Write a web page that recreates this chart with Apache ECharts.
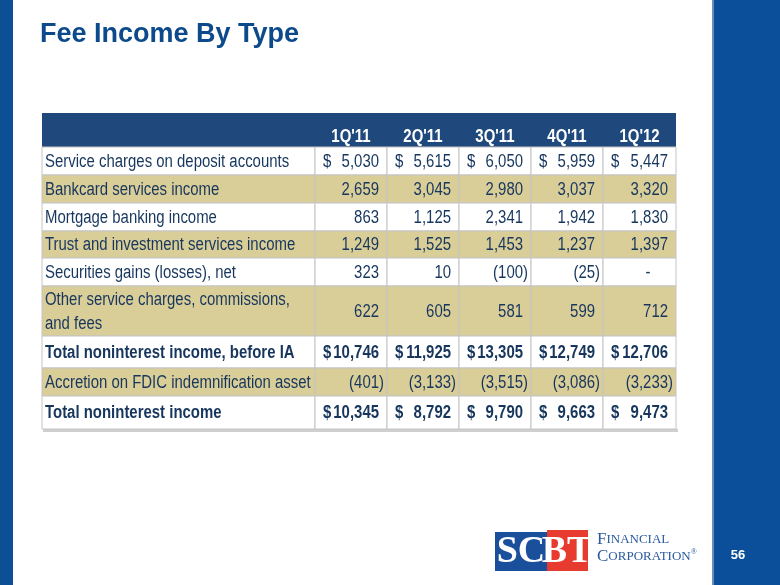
<!DOCTYPE html>
<html><head><meta charset="utf-8">
<script src="https://cdn.jsdelivr.net/npm/echarts@6/dist/echarts.min.js"></script>
<style>html,body{margin:0;padding:0;background:#fff}#c{width:780px;height:585px}</style>
</head><body><div id="c"></div>
<script>
const title = "Fee Income By Type";
const quarters = ["1Q'11", "2Q'11", "3Q'11", "4Q'11", "1Q'12"];
const rowLabels = [
  "Service charges on deposit accounts",
  "Bankcard services income",
  "Mortgage banking income",
  "Trust and investment services income",
  "Securities gains (losses), net",
  "Other service charges, commissions,\nand fees",
  "Total noninterest income, before IA",
  "Accretion on FDIC indemnification asset",
  "Total noninterest income"
];
const serviceCharges = [5030, 5615, 6050, 5959, 5447];
const bankcard = [2659, 3045, 2980, 3037, 3320];
const mortgage = [863, 1125, 2341, 1942, 1830];
const trust = [1249, 1525, 1453, 1237, 1397];
const securities = [323, 10, -100, -25, 0];
const otherFees = [622, 605, 581, 599, 712];
const totalBeforeIA = [10746, 11925, 13305, 12749, 12706];
const accretion = [-401, -3133, -3515, -3086, -3233];
const totalNonint = [10345, 8792, 9790, 9663, 9473];
const pageNumber = "56";

const rowValues = [serviceCharges, bankcard, mortgage, trust, securities, otherFees, totalBeforeIA, accretion, totalNonint];
const dollarRows = [0, 6, 8];
const boldRows = [6, 8];
const tanRows = [1, 3, 5, 7];

// layout (units along the hidden axes)
const colWidths = [273, 72, 72, 72, 72, 73];
const rowHeights = [34, 28, 28, 28, 27, 28, 50, 32, 28, 33];
const colStart = [0]; colWidths.forEach(w => colStart.push(colStart[colStart.length - 1] + w));
const rowStart = [0]; rowHeights.forEach(h => rowStart.push(rowStart[rowStart.length - 1] + h));

function fmt(v) {
  if (v === 0) return "-";
  const s = Math.abs(v).toLocaleString('en-US');
  return v < 0 ? "(" + s + ")" : s;
}

const cells = [];
cells.push([0, 0, ""]);
quarters.forEach((q, i) => cells.push([i + 1, 0, q]));
rowLabels.forEach((lab, r) => {
  cells.push([0, r + 1, lab]);
  rowValues[r].forEach((v, i) => cells.push([i + 1, r + 1, fmt(v)]));
});

const NAVY = '#1f497d', TEXT = '#17365d', TAN = '#d9cd98', LINE = '#c4c4c4';
const FONTF = '"Liberation Sans",Arial,sans-serif';
const NARROW = 0.83;

function tx(text, x, y, align, font, fill) {
  return { type: 'text', x: x, y: y, scaleX: NARROW, scaleY: 1,
    style: { text: text, x: 0, y: 0, align: align, verticalAlign: 'middle', font: font, fill: fill, lineHeight: 24 } };
}

function renderItem(params, api) {
  const c = api.value(0), r = api.value(1);
  const txt = cells[params.dataIndex][2];
  const p0 = api.coord([colStart[c], rowStart[r]]);
  const p1 = api.coord([colStart[c + 1], rowStart[r + 1]]);
  const x0 = p0[0], y0 = p0[1], x1 = p1[0], y1 = p1[1];
  const children = [];
  if (r === 0) {
    children.push({ type: 'rect', shape: { x: x0, y: y0, width: x1 - x0, height: y1 - y0 }, style: { fill: NAVY } });
    if (txt) children.push(tx(txt, (x0 + x1) / 2, y1 - 10, 'center', 'bold 18px ' + FONTF, '#fff'));
    return { type: 'group', children };
  }
  const dr = r - 1;
  const bold = boldRows.indexOf(dr) >= 0;
  const font = (bold ? 'bold ' : '') + '18px ' + FONTF;
  const fill = tanRows.indexOf(dr) >= 0 ? TAN : '#fff';
  children.push({ type: 'rect', shape: { x: x0, y: y0, width: x1 - x0, height: y1 - y0 }, style: { fill: fill, stroke: LINE, lineWidth: 1 } });
  const ym = (y0 + y1) / 2 + 1;
  if (c === 0) {
    children.push(tx(txt, x0 + 3, ym, 'left', font, TEXT));
  } else {
    if (dollarRows.indexOf(dr) >= 0) children.push(tx('$', x0 + 8, ym, 'left', font, TEXT));
    let xr = x1 - 8, al = 'right';
    if (txt.endsWith(')')) xr = x1 - 3;
    if (txt === '-') { xr = x1 - 28; al = 'center'; }
    children.push(tx(txt, xr, ym, al, font, TEXT));
  }
  return { type: 'group', children };
}

const chart = echarts.init(document.getElementById('c'), null, { renderer: 'canvas' });
chart.setOption({
  animation: false,
  grid: { left: 42, top: 113, width: 634, height: 316 },
  xAxis: { type: 'value', min: 0, max: colStart[colStart.length - 1], show: false },
  yAxis: { type: 'value', min: 0, max: rowStart[rowStart.length - 1], inverse: true, show: false },
  graphic: [
    { type: 'rect', shape: { x: 0, y: 0, width: 13, height: 585 }, style: { fill: '#0d4f94' } },
    { type: 'rect', shape: { x: 712, y: 0, width: 68, height: 585 }, style: { fill: '#0b4f9b' } },
    { type: 'rect', shape: { x: 712, y: 0, width: 2, height: 585 }, style: { fill: '#6a8fbf' } },
    { type: 'text', style: { text: title, x: 40, y: 35, verticalAlign: 'middle', font: 'bold 27px "Liberation Sans",Arial,sans-serif', fill: '#0c4a8b' } },
    { type: 'rect', shape: { x: 43, y: 429, width: 635, height: 3 }, style: { fill: '#cfcfcf' } },
    { type: 'rect', shape: { x: 495, y: 532, width: 52, height: 39 }, style: { fill: '#1a4f9c' } },
    { type: 'text', style: { text: 'SC', x: 521, y: 552, align: 'center', verticalAlign: 'middle', font: 'bold 38px "Liberation Serif",serif', fill: '#fff' } },
    { type: 'rect', shape: { x: 547, y: 530, width: 41, height: 41 }, style: { fill: '#e63b2e' } },
    { type: 'text', style: { text: 'BT', x: 567, y: 552, align: 'center', verticalAlign: 'middle', font: 'bold 38px "Liberation Serif",serif', fill: '#fff' } },
    { type: 'text', style: { text: '{b|F}{s|INANCIAL}', x: 597, y: 548, verticalAlign: 'bottom',
        rich: { b: { font: '17px "Liberation Serif",serif', fill: '#2a5a9e' }, s: { font: '13px "Liberation Serif",serif', fill: '#2a5a9e' } } } },
    { type: 'text', style: { text: '{b|C}{s|ORPORATION}{r|®}', x: 597, y: 565, verticalAlign: 'bottom',
        rich: { b: { font: '17px "Liberation Serif",serif', fill: '#2a5a9e' }, s: { font: '13px "Liberation Serif",serif', fill: '#2a5a9e' }, r: { font: '8px "Liberation Serif",serif', fill: '#2a5a9e', verticalAlign: 'top' } } } },
    { type: 'text', style: { text: pageNumber, x: 738, y: 555, align: 'center', verticalAlign: 'middle', font: 'bold 13px "Liberation Sans",Arial,sans-serif', fill: '#fff' } }
  ],
  series: [{
    type: 'custom',
    renderItem: renderItem,
    data: cells.map(c => [c[0], c[1]]),
    silent: true
  }]
});
</script>
</body></html>
